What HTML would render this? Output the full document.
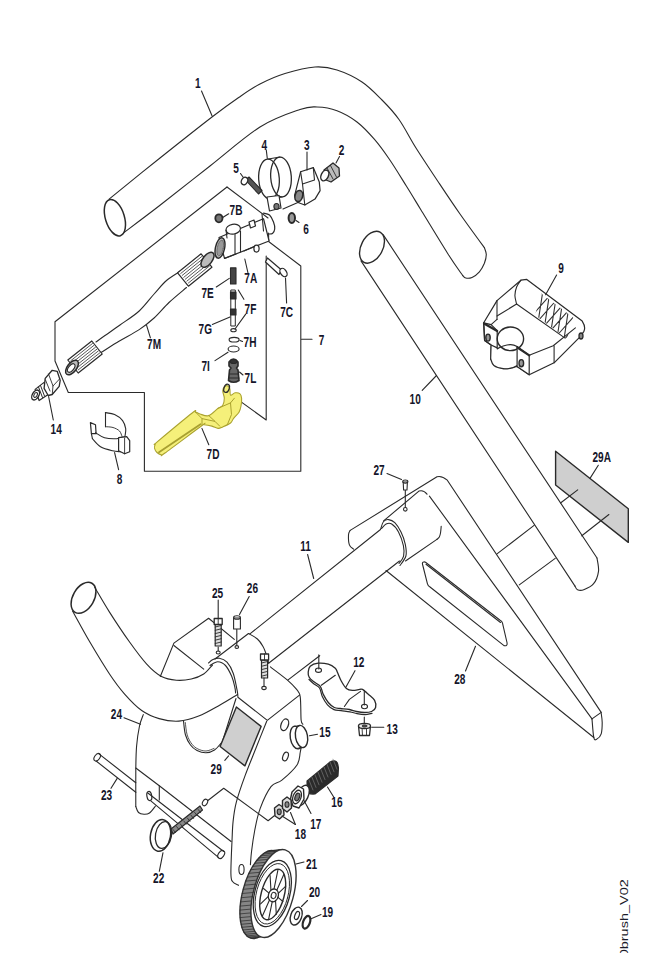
<!DOCTYPE html>
<html><head><meta charset="utf-8"><style>
html,body{margin:0;padding:0;background:#fff;width:646px;height:953px;overflow:hidden;position:relative}
</style></head><body>
<svg width="646" height="953" viewBox="0 0 646 953" style="position:absolute;left:0;top:0">
<g stroke-linecap="round" stroke-linejoin="round">
<path d="M109.1,199.1 C117.6,192.2 142.8,171.7 160,158 C177.2,144.3 198.9,127.1 212,117 C225.1,106.9 230.7,103 238.7,97.5 C246.7,92 252.3,88 260,84 C267.7,80 275.8,76.3 285,73.5 C294.2,70.7 306.3,67.6 315,67 C323.7,66.4 329.2,67.5 337,70 C344.8,72.5 354.5,77 362,82 C369.5,87 375.8,93.8 382,100 C388.2,106.2 393.3,111.5 399,119.5 C404.7,127.5 409.3,137.4 416,148 C422.7,158.6 431.7,172 439,183 C446.3,194 452.4,203.2 460,214 C467.6,224.8 480.3,242.1 484.4,247.7" fill="none" stroke="#2a2a2a" stroke-width="1.1"/>
<path d="M124,232.5 C130,228 145.7,216.4 160,205.3 C174.3,194.2 193.3,179.1 210,166 C226.7,152.9 245,136.4 260,127 C275,117.6 290.5,112.8 300,109.5 C309.5,106.2 310.8,106.8 317,107 C323.2,107.2 330.3,108.2 337,110.7 C343.7,113.2 350.8,117.2 357,122 C363.2,126.8 368.9,133 374.3,139.2 C379.7,145.4 383.8,151.2 389.2,159 C394.6,166.8 401.2,177.8 406.5,186.3 C411.8,194.8 414.1,198.7 421,210 C427.9,221.3 441.1,243.1 448,254 C454.9,264.9 460.2,271.9 462.7,275.5" fill="none" stroke="#2a2a2a" stroke-width="1.1"/>
<path d="M484.4,247.7 C484.7,248.8 486.3,251.9 486.3,254.5 C486.3,257.1 485.5,260.3 484.4,263.2 C483.2,266.1 481.5,269.4 479.4,271.8 C477.3,274.2 474.3,276.4 472,277.4 C469.7,278.4 467.4,278.3 465.8,278 C464.2,277.7 463.2,275.9 462.7,275.5" fill="none" stroke="#2a2a2a" stroke-width="1.1"/>
<ellipse cx="114.9" cy="217.7" rx="9.5" ry="18.8" fill="none" stroke="#2a2a2a" stroke-width="1.5" transform="rotate(-17 114.9 217.7)"/>
<path d="M201.5,91 L212,115.7" fill="none" stroke="#2a2a2a" stroke-width="1.1"/>
<ellipse cx="372" cy="247.2" rx="10.8" ry="17.1" fill="none" stroke="#2a2a2a" stroke-width="1.4" transform="rotate(28 372 247.2)"/>
<path d="M361,260.9 L575,586.1" fill="none" stroke="#2a2a2a" stroke-width="1.1"/>
<path d="M383.3,234.9 L597,558" fill="none" stroke="#2a2a2a" stroke-width="1.1"/>
<path d="M597,558 C597.2,560.2 599.1,567 598.5,571.3 C597.9,575.6 596.1,580.6 593.6,583.7 C591.1,586.8 586.4,588.8 583.7,589.8 C581,590.8 579,590.4 577.5,589.8 C576,589.2 575.4,586.7 575,586.1" fill="none" stroke="#2a2a2a" stroke-width="1.1"/>
<path d="M422.2,390.3 L436.5,375.5" fill="none" stroke="#2a2a2a" stroke-width="1.1"/>
<path d="M497,553.9 L534.1,525.4" fill="none" stroke="#2a2a2a" stroke-width="1.1"/>
<path d="M519.3,584.9 L555.2,558.4" fill="none" stroke="#2a2a2a" stroke-width="1.1"/>
<path d="M555.6,451.3 L628.3,508.8 L628.3,542.4 L555.6,485Z" fill="#cfcfcf" stroke="#2a2a2a" stroke-width="1.4"/>
<path d="M560.5,503 L577.7,489.9" fill="none" stroke="#2a2a2a" stroke-width="1.1"/>
<path d="M581.8,535.8 L608.9,514.5" fill="none" stroke="#2a2a2a" stroke-width="1.1"/>
<path d="M598.3,465.3 L590,478.4" fill="none" stroke="#2a2a2a" stroke-width="1.1"/>
<path d="M350.2,530.4 C349.9,531.1 348.6,532.3 348.5,534.7 C348.4,537.1 348.5,542.5 349.4,544.9 C350.2,547.3 352.9,548.5 353.6,549.2" fill="none" stroke="#2a2a2a" stroke-width="1.1"/>
<path d="M350.2,530.4 L437,476.8 Q442,475.5 447.3,480.2 L601.2,712.4" fill="none" stroke="#2a2a2a" stroke-width="1.1"/>
<path d="M429.4,496.1 L592,718.9" fill="none" stroke="#2a2a2a" stroke-width="1.1"/>
<path d="M386,570.5 L593.8,737.5" fill="none" stroke="#2a2a2a" stroke-width="1.1"/>
<path d="M592,718.9 C592.3,722 593,734.1 593.8,737.5 C594.6,740.9 595.4,739.9 596.6,739.3 C597.8,738.7 600.3,736.6 601.2,733.8 C602.1,731 602.2,726 602.2,722.6 C602.2,719.2 601.4,714.8 601.2,713.3" fill="none" stroke="#2a2a2a" stroke-width="1.1"/>
<path d="M601.2,712.4 L592,718.9" fill="none" stroke="#2a2a2a" stroke-width="1.1"/>
<path d="M423.5,562 Q421.8,562.5 422.7,565 L427.4,583.6 Q428,586 429.7,586.7 L504,645.6 Q507.5,646.5 507.1,643 L502.5,623.1 Q502,621 500.1,620.3 L425.5,562.2 Q424.5,561.6 423.5,562Z" fill="none" stroke="#2a2a2a" stroke-width="1.1"/>
<path d="M426,564.3 L500.5,622.5" fill="none" stroke="#2a2a2a" stroke-width="1.1"/>
<path d="M475.5,646.3 L465.5,671" fill="none" stroke="#2a2a2a" stroke-width="1.1"/>
<path d="M383.6,520.9 L418.9,491.1 Q423.5,489.5 427,494.2" fill="none" stroke="#2a2a2a" stroke-width="1.1"/>
<path d="M441.2,526.4 C441.1,527.5 440.8,531.2 440.5,533 C440.2,534.8 439.9,535.9 439.3,537 C438.7,538.1 437.3,539 436.9,539.4" fill="none" stroke="#2a2a2a" stroke-width="1.1"/>
<path d="M436.9,539.4 L405.5,561" fill="none" stroke="#2a2a2a" stroke-width="1.1"/>
<path d="M380.5,529.5 C381,528.2 382.2,523.1 383.6,521.5 C385,519.9 386.7,519.4 388.6,519.6 C390.5,519.8 392.7,520.6 394.8,522.7 C396.9,524.8 399.2,528.4 401,532 C402.8,535.6 404.5,540.4 405.3,544.4 C406.1,548.4 406.8,552.5 405.9,556 C405,559.5 401,563.9 400,565.5" fill="none" stroke="#2a2a2a" stroke-width="1.1"/>
<path d="M381.5,528.5 C382.3,527.8 384.4,524.8 386.1,524 C387.8,523.2 389.6,522.7 391.7,524 C393.8,525.3 396.6,528.4 398.5,532 C400.4,535.6 402.5,541.6 403.4,545.6 C404.2,549.6 404.3,553 403.6,556 C402.9,559 399.8,562.2 399,563.5" fill="none" stroke="#2a2a2a" stroke-width="1.1"/>
<path d="M405.3,490 L405.3,507.2" fill="none" stroke="#2a2a2a" stroke-width="1.1"/>
<ellipse cx="405.3" cy="509.3" rx="1.8" ry="1.8" fill="none" stroke="#2a2a2a" stroke-width="1.1"/>
<path d="M403.2,482 L403.6,490 L407,490 L407.4,482 Z" fill="#fff" stroke="#2a2a2a" stroke-width="1.1"/>
<ellipse cx="405.3" cy="481.6" rx="2.6" ry="1.6" fill="none" stroke="#2a2a2a" stroke-width="1.1"/>
<path d="M387,473.5 L401.5,479.5" fill="none" stroke="#2a2a2a" stroke-width="1.1"/>
<path d="M249.9,633.9 L380.5,529.5" fill="none" stroke="#2a2a2a" stroke-width="1.1"/>
<path d="M268.6,663.2 L399.5,561" fill="none" stroke="#2a2a2a" stroke-width="1.1"/>
<path d="M307.6,554.5 L313.7,578.5" fill="none" stroke="#2a2a2a" stroke-width="1.1"/>
<ellipse cx="83.5" cy="597.8" rx="10.6" ry="16.8" fill="none" stroke="#2a2a2a" stroke-width="1.5" transform="rotate(30 83.5 597.8)"/>
<path d="M72.5,611 C75.4,616.1 83.5,631.3 89.7,641.8 C95.9,652.3 103.7,665.3 109.5,674 C115.3,682.7 119,687.7 124.4,693.8 C129.8,699.9 135.9,706.4 141.7,710.5 C147.5,714.6 152.9,716.8 159.1,718.6 C165.3,720.4 172.3,721.5 178.9,721.1 C185.5,720.7 191.8,718.8 198.7,716.1 C205.5,713.4 213.5,708.6 220,705 C226.5,701.4 234.6,696.2 237.5,694.5" fill="none" stroke="#2a2a2a" stroke-width="1.1"/>
<path d="M94.7,587.3 C97.2,591.4 103.7,603 109.5,612.1 C115.3,621.2 123.2,633.1 129.4,641.8 C135.6,650.5 141.3,658.3 146.7,664.1 C152,669.9 156.6,673.8 161.5,676.5 C166.4,679.2 171.4,679.8 176.4,680.2 C181.4,680.6 186.8,680 191.3,679 C195.9,678 200.2,676.3 203.7,674 C207.2,671.7 211,666.5 212.5,665" fill="none" stroke="#2a2a2a" stroke-width="1.1"/>
<path d="M160.3,676.5 L173.9,643.1 L208.6,618.3 L234.3,639.4" fill="none" stroke="#2a2a2a" stroke-width="1.1"/>
<path d="M173.9,645.5 L203.7,669.1" fill="none" stroke="#2a2a2a" stroke-width="1.1"/>
<path d="M208.5,663 C209.2,662.4 211.2,660.4 213,659.6 C214.8,658.8 217,657.8 219.3,658.2 C221.6,658.6 224.7,659.7 227,662.2 C229.3,664.7 231.5,668.5 233.2,673.2 C234.9,677.9 236.3,686.3 237.1,690.2 C237.9,694.1 237.8,695.4 237.9,696.4" fill="none" stroke="#2a2a2a" stroke-width="1.1"/>
<path d="M210,665.5 C211.3,664.9 215.1,661.8 217.7,661.8 C220.3,661.8 223.2,663.1 225.5,665.5 C227.8,667.9 230.1,672.7 231.7,676.3 C233.2,679.9 234.2,684.2 234.8,687 C235.5,689.8 235.5,692 235.6,693" fill="none" stroke="#2a2a2a" stroke-width="1.1"/>
<path d="M215,659 L248.5,633.5" fill="none" stroke="#2a2a2a" stroke-width="1.1"/>
<path d="M248.5,633.5 C250,634.4 255,636.9 257.4,639 C259.8,641.1 261.4,643.6 263,646.4 C264.6,649.2 265.8,652.9 266.7,655.7 C267.6,658.5 268.3,662 268.6,663.2" fill="none" stroke="#2a2a2a" stroke-width="1.1"/>
<path d="M218.2,600 L218.2,619" fill="none" stroke="#2a2a2a" stroke-width="1.1"/>
<path d="M215.2,624 L221.2,624 L221.2,646 L215.2,646Z" fill="#ddd" stroke="#2a2a2a" stroke-width="1.2"/>
<path d="M215.2,627 L221.2,625.5" fill="none" stroke="#2a2a2a" stroke-width="0.9"/>
<path d="M215.2,630.3 L221.2,628.8" fill="none" stroke="#2a2a2a" stroke-width="0.9"/>
<path d="M215.2,633.6 L221.2,632.1" fill="none" stroke="#2a2a2a" stroke-width="0.9"/>
<path d="M215.2,636.9 L221.2,635.4" fill="none" stroke="#2a2a2a" stroke-width="0.9"/>
<path d="M215.2,640.2 L221.2,638.7" fill="none" stroke="#2a2a2a" stroke-width="0.9"/>
<path d="M215.2,643.5 L221.2,642" fill="none" stroke="#2a2a2a" stroke-width="0.9"/>
<path d="M214.2,618.5 L222.2,618.5 L222.2,624.5 L214.2,624.5Z" fill="#fff" stroke="#2a2a2a" stroke-width="1.3"/>
<path d="M218.2,618.5 L218.2,624.5" fill="none" stroke="#2a2a2a" stroke-width="0.9"/>
<path d="M218.2,647 L218.2,651" fill="none" stroke="#2a2a2a" stroke-width="1.1"/>
<ellipse cx="218.2" cy="652.5" rx="2" ry="1.5" fill="none" stroke="#2a2a2a" stroke-width="1.1"/>
<path d="M233.6,618 L240.4,618 L240.4,629 L233.6,629Z" fill="#fff" stroke="#2a2a2a" stroke-width="1.1"/>
<ellipse cx="237" cy="617.5" rx="3.4" ry="1.8" fill="none" stroke="#2a2a2a" stroke-width="1.1"/>
<path d="M236.8,629.5 L236.8,645" fill="none" stroke="#2a2a2a" stroke-width="1.1"/>
<ellipse cx="236.8" cy="647" rx="1.8" ry="1.4" fill="none" stroke="#2a2a2a" stroke-width="1.1"/>
<path d="M249.2,596.5 L239.5,614.5" fill="none" stroke="#2a2a2a" stroke-width="1.1"/>
<path d="M261.5,660 L267.6,660 L267.6,678 L261.5,678Z" fill="#ddd" stroke="#2a2a2a" stroke-width="1.2"/>
<path d="M261.5,663 L267.6,661.5" fill="none" stroke="#2a2a2a" stroke-width="0.9"/>
<path d="M261.5,666.3 L267.6,664.8" fill="none" stroke="#2a2a2a" stroke-width="0.9"/>
<path d="M261.5,669.6 L267.6,668.1" fill="none" stroke="#2a2a2a" stroke-width="0.9"/>
<path d="M261.5,672.9 L267.6,671.4" fill="none" stroke="#2a2a2a" stroke-width="0.9"/>
<path d="M261.5,676.2 L267.6,674.7" fill="none" stroke="#2a2a2a" stroke-width="0.9"/>
<path d="M260.5,654 L268.6,654 L268.6,660 L260.5,660Z" fill="#fff" stroke="#2a2a2a" stroke-width="1.3"/>
<path d="M264.5,654 L264.5,660" fill="none" stroke="#2a2a2a" stroke-width="0.9"/>
<path d="M264,678 L264,686" fill="none" stroke="#2a2a2a" stroke-width="1.1"/>
<ellipse cx="264" cy="688" rx="2.2" ry="1.6" fill="none" stroke="#2a2a2a" stroke-width="1.1"/>
<path d="M237.9,697.2 L267.3,720.4 L299.8,694.9" fill="none" stroke="#2a2a2a" stroke-width="1.1"/>
<path d="M270.4,666.9 C273.2,669.1 282.9,676.2 287.2,679.9 C291.5,683.6 294.2,686.4 296.4,689.2 C298.6,692 299.4,691.5 300.2,696.6 C301,701.7 300.7,715.4 301.1,720 C301.6,724.6 302.6,723.6 302.9,724.3" fill="none" stroke="#2a2a2a" stroke-width="1.1"/>
<path d="M236,698.5 L221.2,745.5" fill="none" stroke="#2a2a2a" stroke-width="1.1"/>
<path d="M266.7,721.2 C264.9,725.7 259.6,738.9 256,748 C252.4,757.1 248.3,766.9 245,775.9 C241.7,784.9 238.4,794.3 236.4,801.9 C234.4,809.5 233.8,814.9 233.1,821.4 C232.4,827.9 232.4,832.2 232,840.9 C231.6,849.6 230.8,866.6 230.9,873.4 C231,880.2 231.2,879.5 232.5,881.5 C233.8,883.5 237.5,884.7 238.5,885.3" fill="none" stroke="#2a2a2a" stroke-width="1.1"/>
<path d="M302.5,740 C302.1,742 301.2,747.8 300.3,752 C299.4,756.2 300.1,760.3 297,765 C293.9,769.7 286.2,776.6 281.9,780.2 C277.6,783.8 274.6,782 271,786.7 C267.4,791.4 262.9,801.2 260.2,808.4 C257.5,815.6 256.2,822.8 254.8,830 C253.4,837.2 252.2,845.9 251.5,851.7 C250.8,857.5 250.6,862.5 250.4,864.7" fill="none" stroke="#2a2a2a" stroke-width="1.1"/>
<path d="M143.3,714.6 C142.7,716.5 140.6,720.8 139.5,726 C138.4,731.2 137.2,738.7 136.6,746 C136,753.3 135.9,759.9 135.8,770 C135.7,780.1 135.8,800.4 135.8,806.5" fill="none" stroke="#2a2a2a" stroke-width="1.1"/>
<path d="M135.8,806.5 C136.2,807.5 137.1,811.2 138.5,812.5 C139.9,813.8 142.2,814.2 144,814.3 C145.8,814.4 147.6,814.4 149.5,813 C151.4,811.6 154.5,807.2 155.5,806" fill="none" stroke="#2a2a2a" stroke-width="1.1"/>
<path d="M135.8,768 L159.3,785.8 L231.1,841.5" fill="none" stroke="#2a2a2a" stroke-width="1.1"/>
<path d="M159.3,785.8 L159.3,800" fill="none" stroke="#2a2a2a" stroke-width="1.1"/>
<path d="M183.5,721 C183.8,723.3 184.3,731 185.5,735 C186.7,739 188.6,742.4 190.5,745 C192.4,747.6 194.4,749.2 197,750.5 C199.6,751.8 203.1,752.9 206,752.8 C208.9,752.7 212,751.6 214.5,750 C217,748.4 220.1,744.2 221.2,743" fill="none" stroke="#2a2a2a" stroke-width="1.1"/>
<path d="M185.3,722.5 C185.6,724.6 186.1,731.4 187.2,735 C188.3,738.6 190.2,741.9 192,744.2 C193.8,746.5 195.7,747.9 198,749 C200.3,750.1 203.3,751.1 206,751 C208.7,750.9 212.7,748.8 214,748.4" fill="none" stroke="#2a2a2a" stroke-width="0.8"/>
<ellipse cx="241.5" cy="869.5" rx="2.6" ry="5" fill="none" stroke="#2a2a2a" stroke-width="1.1"/>
<path d="M236.4,707 L261.1,726.4 L244.9,765.9 L220.1,746.5Z" fill="#cfcfcf" stroke="#2a2a2a" stroke-width="1.4"/>
<path d="M224.8,760.4 L228.6,755.8" fill="none" stroke="#2a2a2a" stroke-width="1.1"/>
<ellipse cx="284.7" cy="724.8" rx="3.6" ry="6" fill="none" stroke="#2a2a2a" stroke-width="1.3" transform="rotate(20 284.7 724.8)"/>
<ellipse cx="285.5" cy="756.5" rx="2.6" ry="4.5" fill="none" stroke="#2a2a2a" stroke-width="1.2" transform="rotate(20 285.5 756.5)"/>
<ellipse cx="296.5" cy="737.5" rx="6.2" ry="11.5" fill="#fff" stroke="#2a2a2a" stroke-width="1.4" transform="rotate(-10 296.5 737.5)"/>
<path d="M294.5,726.5 L300.5,725.5" fill="none" stroke="#2a2a2a" stroke-width="1.1"/>
<path d="M296.5,748.5 L302.5,747.5" fill="none" stroke="#2a2a2a" stroke-width="1.1"/>
<ellipse cx="301.5" cy="736.5" rx="6" ry="11.2" fill="#fff" stroke="#2a2a2a" stroke-width="1.4" transform="rotate(-10 301.5 736.5)"/>
<path d="M309.5,735.8 L317.5,734.2" fill="none" stroke="#2a2a2a" stroke-width="1.1"/>
<path d="M124,717.7 L140.5,724.3" fill="none" stroke="#2a2a2a" stroke-width="1.1"/>
<path d="M309,679.5 C309.8,680.2 312.2,682.6 314,684 C315.8,685.4 318.1,685.9 319.5,688 C320.9,690.1 321,693.7 322.3,696.5 C323.6,699.3 325.6,702.6 327.5,704.8 C329.4,707 331.8,708.6 334,709.6 C336.2,710.6 338.3,710.2 341,710.6 C343.7,711 347.3,711.3 350,711.8 C352.7,712.3 354.5,713.1 357,713.6 C359.5,714.1 362.5,714.6 365,714.6 C367.5,714.6 370.8,713.6 372,713.4" fill="none" stroke="#2a2a2a" stroke-width="1.2"/>
<path d="M310.2,666.2 C311.9,664.7 315.2,663.5 318.2,663.2 C321.2,662.9 325.4,663.4 328.3,664.2 C331.2,665 333.8,666.9 335.3,668.2 C336.8,669.6 336.4,670.1 337.4,672.3 C338.4,674.5 339.9,678.6 341.4,681.3 C342.9,684 344.6,686.9 346.4,688.4 C348.2,689.9 350.2,690.2 352.4,690.4 C354.6,690.6 357.8,689.6 359.5,689.4 C361.2,689.2 361,688.6 362.5,689.4 C364,690.2 366.5,692.6 368.5,694.4 C370.5,696.2 373.4,698.2 374.6,700.4 C375.8,702.6 376.1,705.6 375.6,707.5 C375.1,709.4 373.5,710.7 371.6,711.5 C369.8,712.3 367,712.5 364.5,712.5 C362,712.5 359,712 356.5,711.5 C354,711 352.1,710 349.4,709.5 C346.7,709 342.9,708.8 340.4,708.5 C337.9,708.2 336.3,708.5 334.3,707.5 C332.3,706.5 330.1,704.7 328.3,702.5 C326.5,700.3 324.5,696.8 323.3,694.4 C322.1,692 322,689.9 321.3,688.4 C320.6,686.9 320.6,686.5 319.2,685.3 C317.8,684.1 314.9,682.6 313.2,681.3 C311.5,680 310,678.8 309.2,677.3 C308.4,675.8 308,674.1 308.2,672.3 C308.4,670.4 308.5,667.7 310.2,666.2Z" fill="#fff" stroke="#2a2a2a" stroke-width="1.3"/>
<path d="M321.3,685.3 L335.3,675.3" fill="none" stroke="#2a2a2a" stroke-width="1.1"/>
<path d="M344.4,706.5 L349.4,699.4 L360.5,691.4" fill="none" stroke="#2a2a2a" stroke-width="1.1"/>
<ellipse cx="318.5" cy="670.2" rx="3" ry="2.2" fill="none" stroke="#2a2a2a" stroke-width="1.1"/>
<ellipse cx="364.5" cy="706.5" rx="3" ry="2.2" fill="none" stroke="#2a2a2a" stroke-width="1.1"/>
<path d="M318.8,654.9 L318.8,669" fill="none" stroke="#2a2a2a" stroke-width="1.1"/>
<path d="M364.3,690.2 L364.3,705" fill="none" stroke="#2a2a2a" stroke-width="1.1"/>
<path d="M288.1,679.9 L319.7,655.7" fill="none" stroke="#2a2a2a" stroke-width="1.1"/>
<path d="M355,670.7 L345.7,687.4" fill="none" stroke="#2a2a2a" stroke-width="1.1"/>
<path d="M358.5,726 L370.5,726 L369.5,735.5 L359.5,735.5Z" fill="#fff" stroke="#2a2a2a" stroke-width="1.3"/>
<path d="M362,727 L362.5,735.5" fill="none" stroke="#2a2a2a" stroke-width="0.9"/>
<path d="M366.5,727 L366.5,735.5" fill="none" stroke="#2a2a2a" stroke-width="0.9"/>
<ellipse cx="364.5" cy="726" rx="6" ry="2.6" fill="#eee" stroke="#2a2a2a" stroke-width="1.3"/>
<ellipse cx="364.5" cy="726" rx="2.4" ry="1.2" fill="#555" stroke="#2a2a2a" stroke-width="0.8"/>
<path d="M364.3,717 L364.3,723" fill="none" stroke="#2a2a2a" stroke-width="1.1"/>
<path d="M371.7,727.3 L383.8,727.3" fill="none" stroke="#2a2a2a" stroke-width="1.1"/>
<path d="M98.6,753.6 L135.8,782.7" fill="none" stroke="#2a2a2a" stroke-width="1.1"/>
<path d="M96.1,761 L135.8,792.3" fill="none" stroke="#2a2a2a" stroke-width="1.1"/>
<path d="M147.5,792.8 L223.7,851.5" fill="none" stroke="#2a2a2a" stroke-width="1.1"/>
<path d="M150.8,800.8 L218.7,857.6" fill="none" stroke="#2a2a2a" stroke-width="1.1"/>
<ellipse cx="149.3" cy="796" rx="2.4" ry="4.6" fill="none" stroke="#2a2a2a" stroke-width="1.2" transform="rotate(-10 149.3 796)"/>
<ellipse cx="97.2" cy="757.2" rx="2.6" ry="4.2" fill="none" stroke="#2a2a2a" stroke-width="1.1" transform="rotate(35 97.2 757.2)"/>
<ellipse cx="221.2" cy="854.5" rx="2.8" ry="4.4" fill="none" stroke="#2a2a2a" stroke-width="1.1" transform="rotate(35 221.2 854.5)"/>
<path d="M111,788.3 L117.2,778.4" fill="none" stroke="#2a2a2a" stroke-width="1.1"/>
<ellipse cx="160.5" cy="835.4" rx="10" ry="16" fill="none" stroke="#2a2a2a" stroke-width="1.5" transform="rotate(10 160.5 835.4)"/>
<ellipse cx="163.5" cy="835" rx="8" ry="13.5" fill="none" stroke="#2a2a2a" stroke-width="1.3" transform="rotate(10 163.5 835)"/>
<path d="M171,829 L200,806 L202.5,810 L173,834Z" fill="#888" stroke="#2a2a2a" stroke-width="1.2"/>
<path d="M173,829.5 L175.6,832.7" fill="none" stroke="#2a2a2a" stroke-width="0.8"/>
<path d="M176.6,826.6 L179.2,829.9" fill="none" stroke="#2a2a2a" stroke-width="0.8"/>
<path d="M180.2,823.8 L182.8,827" fill="none" stroke="#2a2a2a" stroke-width="0.8"/>
<path d="M183.8,821 L186.4,824.2" fill="none" stroke="#2a2a2a" stroke-width="0.8"/>
<path d="M187.4,818.1 L190,821.3" fill="none" stroke="#2a2a2a" stroke-width="0.8"/>
<path d="M191,815.2 L193.6,818.5" fill="none" stroke="#2a2a2a" stroke-width="0.8"/>
<path d="M194.6,812.4 L197.2,815.6" fill="none" stroke="#2a2a2a" stroke-width="0.8"/>
<path d="M198.2,809.5 L200.8,812.8" fill="none" stroke="#2a2a2a" stroke-width="0.8"/>
<ellipse cx="205" cy="802.5" rx="2.3" ry="3.5" fill="none" stroke="#2a2a2a" stroke-width="1.1" transform="rotate(30 205 802.5)"/>
<path d="M207.6,800.7 L223.7,788.3 L268.1,820.7 L274.3,815.7" fill="none" stroke="#2a2a2a" stroke-width="1.1"/>
<path d="M163,852.7 L159.3,871.3" fill="none" stroke="#2a2a2a" stroke-width="1.1"/>
<ellipse cx="262.5" cy="894.5" rx="20" ry="45.2" fill="#858585" stroke="#333" stroke-width="1.4" transform="rotate(15 262.5 894.5)"/>
<path d="M250.1,938 L261.1,937" fill="none" stroke="#2a2a2a" stroke-width="0.7"/>
<path d="M248.4,937.1 L259.4,936.1" fill="none" stroke="#2a2a2a" stroke-width="0.7"/>
<path d="M246.8,935.9 L257.8,934.9" fill="none" stroke="#2a2a2a" stroke-width="0.7"/>
<path d="M245.3,934.3 L256.3,933.3" fill="none" stroke="#2a2a2a" stroke-width="0.7"/>
<path d="M244,932.3 L255,931.3" fill="none" stroke="#2a2a2a" stroke-width="0.7"/>
<path d="M242.8,930 L253.8,929" fill="none" stroke="#2a2a2a" stroke-width="0.7"/>
<path d="M241.8,927.3 L252.8,926.3" fill="none" stroke="#2a2a2a" stroke-width="0.7"/>
<path d="M241.1,924.3 L252.1,923.3" fill="none" stroke="#2a2a2a" stroke-width="0.7"/>
<path d="M240.5,921.1 L251.5,920.1" fill="none" stroke="#2a2a2a" stroke-width="0.7"/>
<path d="M240.1,917.6 L251.1,916.6" fill="none" stroke="#2a2a2a" stroke-width="0.7"/>
<path d="M239.9,913.9 L250.9,912.9" fill="none" stroke="#2a2a2a" stroke-width="0.7"/>
<path d="M240,910.1 L251,909.1" fill="none" stroke="#2a2a2a" stroke-width="0.7"/>
<path d="M240.2,906.1 L251.2,905.1" fill="none" stroke="#2a2a2a" stroke-width="0.7"/>
<path d="M240.7,901.9 L251.7,900.9" fill="none" stroke="#2a2a2a" stroke-width="0.7"/>
<path d="M241.3,897.7 L252.3,896.7" fill="none" stroke="#2a2a2a" stroke-width="0.7"/>
<path d="M242.1,893.5 L253.1,892.5" fill="none" stroke="#2a2a2a" stroke-width="0.7"/>
<path d="M243.2,889.3 L254.2,888.3" fill="none" stroke="#2a2a2a" stroke-width="0.7"/>
<path d="M244.4,885.2 L255.4,884.2" fill="none" stroke="#2a2a2a" stroke-width="0.7"/>
<path d="M245.8,881.1 L256.8,880.1" fill="none" stroke="#2a2a2a" stroke-width="0.7"/>
<path d="M247.3,877.1 L258.3,876.1" fill="none" stroke="#2a2a2a" stroke-width="0.7"/>
<path d="M249,873.3 L260,872.3" fill="none" stroke="#2a2a2a" stroke-width="0.7"/>
<path d="M250.8,869.7 L261.8,868.7" fill="none" stroke="#2a2a2a" stroke-width="0.7"/>
<path d="M252.7,866.4 L263.7,865.4" fill="none" stroke="#2a2a2a" stroke-width="0.7"/>
<path d="M254.7,863.3 L265.7,862.3" fill="none" stroke="#2a2a2a" stroke-width="0.7"/>
<path d="M256.7,860.4 L267.7,859.4" fill="none" stroke="#2a2a2a" stroke-width="0.7"/>
<path d="M258.8,857.9 L269.8,856.9" fill="none" stroke="#2a2a2a" stroke-width="0.7"/>
<path d="M261,855.8 L272,854.8" fill="none" stroke="#2a2a2a" stroke-width="0.7"/>
<path d="M263.2,854 L274.2,853" fill="none" stroke="#2a2a2a" stroke-width="0.7"/>
<path d="M265.3,852.5 L276.3,851.5" fill="none" stroke="#2a2a2a" stroke-width="0.7"/>
<path d="M267.5,851.5 L278.5,850.5" fill="none" stroke="#2a2a2a" stroke-width="0.7"/>
<path d="M269.6,850.8 L280.6,849.8" fill="none" stroke="#2a2a2a" stroke-width="0.7"/>
<path d="M271.6,850.5 L282.6,849.5" fill="none" stroke="#2a2a2a" stroke-width="0.7"/>
<path d="M273.5,850.7 L284.5,849.7" fill="none" stroke="#2a2a2a" stroke-width="0.7"/>
<ellipse cx="273.5" cy="893.5" rx="20" ry="45.2" fill="#fff" stroke="#333" stroke-width="1.4" transform="rotate(15 273.5 893.5)"/>
<ellipse cx="272.3" cy="893.5" rx="17.5" ry="34" fill="none" stroke="#2a2a2a" stroke-width="1.3" transform="rotate(15 272.3 893.5)"/>
<ellipse cx="272.3" cy="893.8" rx="15.8" ry="31" fill="none" stroke="#2a2a2a" stroke-width="0.9" transform="rotate(15 272.3 893.8)"/>
<ellipse cx="272.7" cy="894.5" rx="11.5" ry="26" fill="none" stroke="#2a2a2a" stroke-width="1.4" transform="rotate(15 272.7 894.5)"/>
<ellipse cx="273.4" cy="895.4" rx="5" ry="6.5" fill="#fff" stroke="#2a2a2a" stroke-width="1.3" transform="rotate(15 273.4 895.4)"/>
<ellipse cx="273.6" cy="895.5" rx="2.4" ry="3.2" fill="none" stroke="#2a2a2a" stroke-width="1.1" transform="rotate(15 273.6 895.5)"/>
<path d="M277.7,897.2 L282.9,901.5" fill="none" stroke="#2a2a2a" stroke-width="1.1"/>
<path d="M275.5,900.3 L276.3,914.4" fill="none" stroke="#2a2a2a" stroke-width="1.1"/>
<path d="M272.3,901.4 L268.5,919.8" fill="none" stroke="#2a2a2a" stroke-width="1.1"/>
<path d="M269.5,900 L262.5,915.7" fill="none" stroke="#2a2a2a" stroke-width="1.1"/>
<path d="M268.1,896.7 L260.6,903.8" fill="none" stroke="#2a2a2a" stroke-width="1.1"/>
<path d="M268.7,892.8 L263.5,888.5" fill="none" stroke="#2a2a2a" stroke-width="1.1"/>
<path d="M270.9,889.7 L270.1,875.6" fill="none" stroke="#2a2a2a" stroke-width="1.1"/>
<path d="M274.1,888.6 L277.9,870.2" fill="none" stroke="#2a2a2a" stroke-width="1.1"/>
<path d="M276.9,890 L283.9,874.3" fill="none" stroke="#2a2a2a" stroke-width="1.1"/>
<path d="M278.3,893.3 L285.8,886.2" fill="none" stroke="#2a2a2a" stroke-width="1.1"/>
<path d="M296,864 L304,862" fill="none" stroke="#2a2a2a" stroke-width="1.1"/>
<ellipse cx="296.2" cy="916.1" rx="5.5" ry="9.3" fill="#fff" stroke="#2a2a2a" stroke-width="1.4" transform="rotate(20 296.2 916.1)"/>
<ellipse cx="297" cy="915.5" rx="2.1" ry="4.3" fill="none" stroke="#2a2a2a" stroke-width="1.2" transform="rotate(20 297 915.5)"/>
<path d="M307.5,900.5 L301.5,906.5" fill="none" stroke="#2a2a2a" stroke-width="1.1"/>
<ellipse cx="306.5" cy="922.3" rx="3.4" ry="6.6" fill="none" stroke="#2a2a2a" stroke-width="2.2" transform="rotate(20 306.5 922.3)"/>
<path d="M310.5,919 L321,914.5" fill="none" stroke="#2a2a2a" stroke-width="1.1"/>
<path d="M307,781 L330,762 Q338,758 338.5,768 L338,776 L315,794 Q306,795 307,787 Z" fill="#2a2a2a" stroke="#2a2a2a" stroke-width="1.1"/>
<path d="M309,780 L313,790" fill="none" stroke="#777" stroke-width="0.7"/>
<path d="M312,777.4 L316,787.4" fill="none" stroke="#777" stroke-width="0.7"/>
<path d="M315,774.8 L319,784.8" fill="none" stroke="#777" stroke-width="0.7"/>
<path d="M318,772.2 L322,782.2" fill="none" stroke="#777" stroke-width="0.7"/>
<path d="M321,769.6 L325,779.6" fill="none" stroke="#777" stroke-width="0.7"/>
<path d="M324,767 L328,777" fill="none" stroke="#777" stroke-width="0.7"/>
<path d="M327,764.4 L331,774.4" fill="none" stroke="#777" stroke-width="0.7"/>
<path d="M330,761.8 L334,771.8" fill="none" stroke="#777" stroke-width="0.7"/>
<path d="M333,759.2 L337,769.2" fill="none" stroke="#777" stroke-width="0.7"/>
<path d="M327.5,787 L333.7,797" fill="none" stroke="#2a2a2a" stroke-width="1.1"/>
<ellipse cx="302.5" cy="795.5" rx="5.6" ry="11" fill="#fff" stroke="#2a2a2a" stroke-width="1.4" transform="rotate(25 302.5 795.5)"/>
<path d="M292,792 L298,786 L303.5,789 L304,799 L299,808 L293,806 L290.5,799 Z" fill="#fff" stroke="#2a2a2a" stroke-width="1.4"/>
<ellipse cx="297" cy="797" rx="4" ry="7" fill="#fff" stroke="#2a2a2a" stroke-width="1.3" transform="rotate(20 297 797)"/>
<ellipse cx="297.3" cy="797" rx="2.2" ry="4" fill="#777" stroke="#2a2a2a" stroke-width="1.2" transform="rotate(20 297.3 797)"/>
<path d="M304,800.5 L311,813.5" fill="none" stroke="#2a2a2a" stroke-width="1.1"/>
<path d="M274.5,808 L279,804.5 L283.5,807.5 L284,815 L279.5,819 L275,816 Z" fill="#ddd" stroke="#2a2a2a" stroke-width="1.4"/>
<ellipse cx="279.2" cy="811.8" rx="2" ry="2.8" fill="#888" stroke="#2a2a2a" stroke-width="1.1"/>
<path d="M282.5,800.5 L287,797 L291,800 L291.5,808 L287,812 L282.5,808.5 Z" fill="#ddd" stroke="#2a2a2a" stroke-width="1.4"/>
<ellipse cx="287" cy="804.5" rx="2" ry="2.8" fill="#888" stroke="#2a2a2a" stroke-width="1.1"/>
<path d="M295.4,824.5 L282,816" fill="none" stroke="#2a2a2a" stroke-width="1.1"/>
<path d="M295.4,824.5 L290.5,812.5" fill="none" stroke="#2a2a2a" stroke-width="1.1"/>
<path d="M520.9,280.2 L526.8,279.4 L582.2,321.1 Q586,327 583.9,331.3 L580.5,336.4 L554.1,362.8 L529.2,374.8 L517.1,366.4 L503.2,368.7 L490.7,359 L491.1,345 L484.6,340.4 L483.7,322.8 L497,300.6 Z" fill="#fff" stroke="#2a2a2a" stroke-width="1.2"/>
<path d="M520.9,280.2 C520.2,281.3 517.6,284.4 516.6,287 C515.6,289.6 514.9,292.7 514.9,295.5 C514.9,298.3 516.3,302.6 516.6,304" fill="none" stroke="#2a2a2a" stroke-width="1.1"/>
<path d="M516.6,304 L565.1,338.1" fill="none" stroke="#2a2a2a" stroke-width="1.1"/>
<path d="M497,300.6 L497,319.4" fill="none" stroke="#2a2a2a" stroke-width="1.1"/>
<path d="M497,316 L516.6,304" fill="none" stroke="#2a2a2a" stroke-width="1.1"/>
<path d="M491.1,324.6 L497,319.4" fill="none" stroke="#2a2a2a" stroke-width="1.1"/>
<path d="M491.1,346 L490.7,359 Q492,365.5 503.2,368.7 Q512.5,368.5 517.1,365.5 L517.1,346 Z" fill="#fff" stroke="none" stroke-width="1.1"/>
<ellipse cx="510.4" cy="338.8" rx="13.2" ry="11.8" fill="#fff" stroke="#2a2a2a" stroke-width="1.4"/>
<path d="M497.2,348.8 C498.2,348.3 501,346.7 503.2,346 C505.4,345.3 508.3,344.5 510.6,344.6 C512.9,344.7 515.4,345.6 517.1,346.5 C518.8,347.4 520.4,349.4 521,350" fill="none" stroke="#2a2a2a" stroke-width="1.3"/>
<path d="M491.1,346 L490.7,359" fill="none" stroke="#2a2a2a" stroke-width="1.1"/>
<path d="M490.7,359 C491.2,360.1 491.8,363.9 493.9,365.5 C496,367.1 500.1,368.3 503.2,368.7 C506.3,369.1 510.2,368.3 512.5,367.8 C514.8,367.3 516.3,365.9 517.1,365.5" fill="none" stroke="#2a2a2a" stroke-width="1.2"/>
<path d="M483.7,322.8 L484.6,340.4 L491.1,345 L497.2,347.9 L497.2,330.7 L491.1,324.6 L483.7,322.8" fill="none" stroke="#2a2a2a" stroke-width="1.2"/>
<path d="M484,323.5 L497.2,331" fill="none" stroke="#2a2a2a" stroke-width="2.2"/>
<ellipse cx="488" cy="337.6" rx="2.2" ry="3.5" fill="#999" stroke="#2a2a2a" stroke-width="1.4"/>
<path d="M517.1,346.9 L529.2,355.3 L529.2,374.8 L517.1,366.4Z" fill="#fff" stroke="#2a2a2a" stroke-width="1.2"/>
<path d="M517.5,347.5 L529.2,355.3" fill="none" stroke="#2a2a2a" stroke-width="2.2"/>
<ellipse cx="521.3" cy="363.2" rx="2.3" ry="3.6" fill="#999" stroke="#2a2a2a" stroke-width="1.4"/>
<path d="M529.2,355.3 L553.2,345.8 L575.4,327.9" fill="none" stroke="#2a2a2a" stroke-width="1.1"/>
<path d="M554.1,345.8 L554.1,362.8" fill="none" stroke="#2a2a2a" stroke-width="1.1"/>
<ellipse cx="581" cy="336" rx="2" ry="3" fill="#888" stroke="#2a2a2a" stroke-width="1.3"/>
<clipPath id="knurl"><path d="M541.3,293.4 L573.2,317.5 L567.0,339.0 L535.0,315.0Z"/></clipPath>
<path d="M523.6,277.0 L519.2,306.2 M530.0,281.8 L512.8,301.4 M530.0,281.8 L525.6,311.0 M536.4,286.6 L519.2,306.2 M536.4,286.6 L531.9,315.8 M542.8,291.4 L525.6,311.0 M542.8,291.4 L538.3,320.6 M549.2,296.2 L531.9,315.8 M549.2,296.2 L544.7,325.4 M555.6,301.0 L538.3,320.6 M555.6,301.0 L551.1,330.2 M562.0,305.8 L544.7,325.4 M562.0,305.8 L557.5,335.0 M568.3,310.7 L551.1,330.2 M568.3,310.7 L563.9,339.8 M574.7,315.5 L557.5,335.0 M574.7,315.5 L570.3,344.6 M581.1,320.3 L563.9,339.8 M581.1,320.3 L576.7,349.5 M587.5,325.1 L570.3,344.6 M587.5,325.1 L583.1,354.3 M593.9,329.9 L576.7,349.5 M593.9,329.9 L589.5,359.1 M600.3,334.7 L583.1,354.3 M600.3,334.7 L595.9,363.9 M606.7,339.5 L589.5,359.1 M606.7,339.5 L602.3,368.7 M613.1,344.3 L595.9,363.9" stroke="#333" stroke-width="1.1" fill="none" clip-path="url(#knurl)"/>
<path d="M556.6,275.1 L545.6,294.7" fill="none" stroke="#2a2a2a" stroke-width="1.1"/>
<path d="M227,187 L55,321.7 L55,361 L68.3,392.5 L144.4,392.5 L144.4,471.2 L300.8,471.2 L300.8,266 L268.6,241.5 L268.6,233" fill="none" stroke="#2a2a2a" stroke-width="1.1"/>
<path d="M227,187 L268,218" fill="none" stroke="#2a2a2a" stroke-width="1.1"/>
<path d="M266.2,256 L266.2,420 L241.8,402.4" fill="none" stroke="#2a2a2a" stroke-width="1.1"/>
<path d="M301.5,339.2 L312,339.2" fill="none" stroke="#2a2a2a" stroke-width="1.1"/>
<path d="M96,342 C97.5,340.9 101,338.3 105,335.5 C109,332.7 114.3,329.1 120,325 C125.7,320.9 133.5,316.2 139.2,311 C144.9,305.8 149.5,299.1 154.1,294 C158.7,288.9 162.1,284.3 166.5,280.5 C170.9,276.7 178.2,272.6 180.5,271" fill="none" stroke="#2a2a2a" stroke-width="1.1"/>
<path d="M101,352.5 C104.1,350.6 113,344.8 119.4,341 C125.8,337.2 133.4,333.4 139.2,329.6 C145,325.8 149.1,322.5 154.1,318 C159.1,313.5 163.6,307.6 169,302.5 C174.4,297.4 183.6,290 186.5,287.5" fill="none" stroke="#2a2a2a" stroke-width="1.1"/>
<path d="M78.2,373 L102.2,354 L91.8,341 L67.8,360Z" fill="#fff" stroke="#2a2a2a" stroke-width="1.2"/>
<path d="M70.9,360.6 L92.5,343.5" fill="none" stroke="#444" stroke-width="0.9"/>
<path d="M72.4,362.5 L94,345.3" fill="none" stroke="#444" stroke-width="0.9"/>
<path d="M73.8,364.3 L95.5,347.2" fill="none" stroke="#444" stroke-width="0.9"/>
<path d="M75.3,366.2 L97,349.1" fill="none" stroke="#444" stroke-width="0.9"/>
<path d="M76.8,368 L98.4,350.9" fill="none" stroke="#444" stroke-width="0.9"/>
<path d="M78.2,369.9 L99.9,352.8" fill="none" stroke="#444" stroke-width="0.9"/>
<ellipse cx="72" cy="367.5" rx="4.6" ry="8.6" fill="#bbb" stroke="#2a2a2a" stroke-width="1.5" transform="rotate(38 72 367.5)"/>
<ellipse cx="71.2" cy="368" rx="2.6" ry="5" fill="#fff" stroke="#2a2a2a" stroke-width="1.1" transform="rotate(38 71.2 368)"/>
<path d="M188.4,286.2 L211.9,267.2 L201.1,253.8 L177.6,272.8Z" fill="#fff" stroke="#2a2a2a" stroke-width="1.2"/>
<path d="M180.7,273.5 L201.9,256.4" fill="none" stroke="#444" stroke-width="0.9"/>
<path d="M182.2,275.4 L203.4,258.3" fill="none" stroke="#444" stroke-width="0.9"/>
<path d="M183.8,277.3 L204.9,260.2" fill="none" stroke="#444" stroke-width="0.9"/>
<path d="M185.3,279.2 L206.5,262.1" fill="none" stroke="#444" stroke-width="0.9"/>
<path d="M186.9,281.1 L208,264" fill="none" stroke="#444" stroke-width="0.9"/>
<path d="M188.4,283 L209.6,265.9" fill="none" stroke="#444" stroke-width="0.9"/>
<ellipse cx="207.5" cy="259.8" rx="4.6" ry="8.8" fill="#bbb" stroke="#2a2a2a" stroke-width="1.5" transform="rotate(38 207.5 259.8)"/>
<path d="M146.6,325.4 L150.4,337.8" fill="none" stroke="#2a2a2a" stroke-width="1.1"/>
<path d="M35.1,389.4 L44.1,382.4 L48.2,394.5 L39.1,400.5 Z" fill="#fff" stroke="#2a2a2a" stroke-width="1.2"/>
<path d="M38.5,387 L42.5,397.5" fill="none" stroke="#2a2a2a" stroke-width="1.0"/>
<path d="M40.5,385.5 L44.5,396" fill="none" stroke="#2a2a2a" stroke-width="1.0"/>
<path d="M45.2,378.4 L52.2,370.3 L57.2,371.3 L60.2,380.4 L59.2,386.4 L52.2,394.5 L48.2,395.5 L44.1,388.4 Z" fill="#fff" stroke="#2a2a2a" stroke-width="1.3"/>
<path d="M48.5,374 L53,386 L52.2,394.5" fill="none" stroke="#2a2a2a" stroke-width="0.9"/>
<path d="M53,386 L59.5,379" fill="none" stroke="#2a2a2a" stroke-width="0.9"/>
<path d="M45.5,380 L50,391" fill="none" stroke="#2a2a2a" stroke-width="0.9"/>
<ellipse cx="35.6" cy="395" rx="3.2" ry="5.4" fill="#fff" stroke="#2a2a2a" stroke-width="1.4" transform="rotate(30 35.6 395)"/>
<ellipse cx="35.6" cy="395" rx="1.5" ry="2.6" fill="none" stroke="#2a2a2a" stroke-width="1" transform="rotate(30 35.6 395)"/>
<path d="M48.6,396.5 L53.3,420" fill="none" stroke="#2a2a2a" stroke-width="1.1"/>
<path d="M105.5,412.6 C107,412.9 111.8,413.3 114.6,414.6 C117.4,415.9 120.8,418.2 122.6,420.6 C124.4,423 125.3,426.1 125.7,428.7 C126.1,431.3 125.1,434.8 125,436" fill="none" stroke="#2a2a2a" stroke-width="1.1"/>
<path d="M105.5,412.6 L105.5,426.7" fill="none" stroke="#2a2a2a" stroke-width="1.1"/>
<path d="M105.5,426.7 C106.8,426.8 110.7,426.8 113,427.5 C115.3,428.2 118,429.5 119.5,431 C121,432.5 121.6,435.6 122,436.5" fill="none" stroke="#2a2a2a" stroke-width="0.9"/>
<path d="M90.4,422.6 L95.5,424.7 L96.1,433.7 L91.4,433.7 Z" fill="#fff" stroke="#2a2a2a" stroke-width="1.2"/>
<path d="M95.5,432.7 C97,433.5 101,436.7 104.5,437.7 C108,438.7 113.2,438.9 116.6,438.7 C119.9,438.5 123.3,437 124.6,436.7" fill="none" stroke="#2a2a2a" stroke-width="1.1"/>
<path d="M92.4,438.7 C93.8,440.1 97.1,444.8 100.5,446.8 C103.9,448.8 109.2,450 112.6,450.8 C115.9,451.6 119.3,451.6 120.6,451.8" fill="none" stroke="#2a2a2a" stroke-width="1.1"/>
<path d="M91.4,433.7 L92.4,438.7" fill="none" stroke="#2a2a2a" stroke-width="1.1"/>
<path d="M118.6,437.7 L126.7,436.7 L129.7,440.7 L129.7,451.8 L124.6,453.8 L118.6,450.8 Z" fill="#fff" stroke="#2a2a2a" stroke-width="1.2"/>
<path d="M124.6,438 L124.6,453.8" fill="none" stroke="#2a2a2a" stroke-width="0.9"/>
<path d="M114.6,452.6 L118.6,469.7" fill="none" stroke="#2a2a2a" stroke-width="1.1"/>
<path d="M155.2,444.2 C155.7,443.1 151.3,446.8 157.5,441.6 C163.7,436.4 185.9,417.9 192.2,413 C198.5,408.1 194.2,411.9 195.5,412.1 C196.8,412.3 197.8,413.4 200,414 C202.2,414.6 205.8,416.6 208.8,415.6 C211.8,414.7 215.8,410 218.1,408.3 C220.4,406.6 221.8,406.9 222.8,405.2 C223.8,403.5 224.3,400.6 224.3,398.2 C224.3,395.8 222.5,392.6 222.8,390.5 C223.1,388.4 224.8,386.2 225.9,385.8 C227.1,385.4 228.9,386.6 229.7,388.2 C230.5,389.8 229.6,394.3 230.5,395.1 C231.4,395.9 233.5,393.1 235.1,392.8 C236.7,392.6 238.7,392.7 239.8,393.6 C240.9,394.5 241.4,396.1 241.6,398.2 C241.8,400.3 241.4,403.7 241,406 C240.6,408.3 240.2,410.1 239,412.2 C237.8,414.2 235,416.5 233.6,418.3 C232.2,420.1 232.3,421.6 230.5,423 C228.7,424.4 224.9,426 222.8,426.9 C220.7,427.8 219.9,428.5 218.1,428.4 C216.3,428.3 214.2,426.7 211.9,426.1 C209.6,425.5 205.7,424.9 204,424.8 C202.3,424.7 208.5,420.8 202,425.5 C195.5,430.2 171.8,448.1 165,453 C158.2,457.9 162.8,454.9 161.5,454.8 C160.2,454.7 158.2,453.6 157,452.5 C155.8,451.4 154.9,449.9 154.6,448.5 C154.3,447.1 154.7,445.3 155.2,444.2Z" fill="#f5f07a" stroke="#aaa22e" stroke-width="1.1"/>
<path d="M195.5,412.1 L202,418.6 L202,425.1" fill="none" stroke="#aaa22e" stroke-width="1.0"/>
<path d="M202,418.6 L215,421.4 L219.7,426.1" fill="none" stroke="#aaa22e" stroke-width="1.0"/>
<path d="M208.8,415.6 L215,421.4" fill="none" stroke="#aaa22e" stroke-width="1.0"/>
<path d="M218.1,408.3 L230.5,402.9 L234.4,398.2" fill="none" stroke="#aaa22e" stroke-width="1.0"/>
<path d="M230.5,402.9 L231.5,414.5 L227.4,424.5" fill="none" stroke="#aaa22e" stroke-width="1.0"/>
<path d="M159,452.3 L200.5,424.2" fill="none" stroke="#a8a030" stroke-width="1.8"/>
<ellipse cx="226.6" cy="388.3" rx="2.6" ry="4.2" fill="none" stroke="#2a2a2a" stroke-width="1.3" transform="rotate(20 226.6 388.3)"/>
<path d="M201.9,428.4 L208.8,444.7" fill="none" stroke="#2a2a2a" stroke-width="1.1"/>
<path d="M219,237.5 L263.5,218.7 L269.1,241 L224.5,258.4 Z" fill="#fff" stroke="#2a2a2a" stroke-width="1.2"/>
<ellipse cx="220" cy="248" rx="4.6" ry="10.4" fill="#bbb" stroke="#2a2a2a" stroke-width="1.4" transform="rotate(12 220 248)"/>
<ellipse cx="220.3" cy="248" rx="3" ry="8" fill="#999" stroke="#666" stroke-width="0.8" transform="rotate(12 220.3 248)"/>
<path d="M224.5,258.4 L236,254" fill="none" stroke="#2a2a2a" stroke-width="1.1"/>
<path d="M235,233 L235,253.8" fill="none" stroke="#2a2a2a" stroke-width="1.1"/>
<path d="M240.5,231 L240.5,252" fill="none" stroke="#2a2a2a" stroke-width="1.1"/>
<ellipse cx="233.2" cy="229.2" rx="7.3" ry="4.9" fill="#fff" stroke="#2a2a2a" stroke-width="1.2" transform="rotate(-10 233.2 229.2)"/>
<path d="M226,230 L227,238" fill="none" stroke="#2a2a2a" stroke-width="1.1"/>
<path d="M249,222 L254,220 L255.5,226 L250.5,228 Z" fill="#fff" stroke="#2a2a2a" stroke-width="1.2"/>
<ellipse cx="256.5" cy="248.6" rx="2.6" ry="3.5" fill="#fff" stroke="#2a2a2a" stroke-width="1.2"/>
<path d="M244,251 L254,246.5" fill="none" stroke="#2a2a2a" stroke-width="1.1"/>
<path d="M263.5,213.1 C264.5,213.4 267.8,213.5 269.5,215 C271.2,216.5 272.6,219.7 273.5,222 C274.4,224.3 274.9,227.1 274.7,229 C274.5,230.9 273.6,232.7 272.5,233.5 C271.4,234.3 268.8,233.9 268,234" fill="none" stroke="#2a2a2a" stroke-width="1.2"/>
<path d="M262,214 L263.5,231" fill="none" stroke="#2a2a2a" stroke-width="1.1"/>
<ellipse cx="218.9" cy="218.3" rx="3.6" ry="4" fill="#777" stroke="#2a2a2a" stroke-width="1.8"/>
<path d="M223.1,217.3 L228.7,213.8" fill="none" stroke="#2a2a2a" stroke-width="1.1"/>
<path d="M244.8,259 L248,273" fill="none" stroke="#2a2a2a" stroke-width="1.1"/>
<path d="M267.5,258 L281.5,270 L279,274.5 L265.5,262 Z" fill="#fff" stroke="#2a2a2a" stroke-width="1.2"/>
<ellipse cx="283.5" cy="272.5" rx="3" ry="4.6" fill="#fff" stroke="#2a2a2a" stroke-width="1.3" transform="rotate(-35 283.5 272.5)"/>
<path d="M286.6,303 L285.5,278" fill="none" stroke="#2a2a2a" stroke-width="1.1"/>
<path d="M230.5,267.9 L236,267.9 L236,284 L230.5,284Z" fill="#444" stroke="#2a2a2a" stroke-width="1.1"/>
<path d="M216.3,287 L229.3,278.4" fill="none" stroke="#2a2a2a" stroke-width="1.1"/>
<path d="M231.2,290 L235.3,290 L235.3,326 L231.2,326Z" fill="#fff" stroke="#2a2a2a" stroke-width="1"/>
<path d="M230.5,292 L236,292 L236,299 L230.5,299Z" fill="#333" stroke="#2a2a2a" stroke-width="1.1"/>
<path d="M230.5,309 L236,309 L236,315 L230.5,315Z" fill="#333" stroke="#2a2a2a" stroke-width="1.1"/>
<path d="M212.3,324.4 L230,316.9" fill="none" stroke="#2a2a2a" stroke-width="1.1"/>
<ellipse cx="233.5" cy="330.2" rx="2.7" ry="1.6" fill="none" stroke="#2a2a2a" stroke-width="1.1"/>
<ellipse cx="234.1" cy="339.7" rx="5" ry="2.3" fill="none" stroke="#2a2a2a" stroke-width="1.1"/>
<ellipse cx="233.6" cy="349" rx="5.5" ry="3" fill="none" stroke="#2a2a2a" stroke-width="1.1"/>
<path d="M245.7,314.1 L235,329" fill="none" stroke="#2a2a2a" stroke-width="1.1"/>
<path d="M243.9,299.3 L238.3,290" fill="none" stroke="#2a2a2a" stroke-width="1.1"/>
<path d="M240,340.5 L242.5,341.5" fill="none" stroke="#2a2a2a" stroke-width="1.1"/>
<path d="M215,360.6 L228,352.2" fill="none" stroke="#2a2a2a" stroke-width="1.1"/>
<path d="M229,362 Q233.5,356 238,362 L238,366 L236.5,368 L238,370 L239,380.5 Q233.5,384 228.5,380.5 L229.5,370 L231,368 L229,366Z" fill="#666" stroke="#2a2a2a" stroke-width="1.6"/>
<ellipse cx="233.6" cy="361.5" rx="3.4" ry="2" fill="#333" stroke="#2a2a2a" stroke-width="1.1"/>
<path d="M229.5,374 L238.5,374" fill="none" stroke="#2a2a2a" stroke-width="1.2"/>
<path d="M229,378 L239,378" fill="none" stroke="#2a2a2a" stroke-width="1.2"/>
<path d="M239.5,372 L243,375" fill="none" stroke="#2a2a2a" stroke-width="1.1"/>
<path d="M269,159 L281,157 A10.3,20 0 0 1 281,197 L269,199 A10.3,20 0 0 1 269,159 Z" fill="#fff" stroke="none" stroke-width="1.1"/>
<ellipse cx="281" cy="177" rx="10.3" ry="20" fill="none" stroke="#2a2a2a" stroke-width="1.3" transform="rotate(-4 281 177)"/>
<ellipse cx="269" cy="179" rx="10.3" ry="20" fill="none" stroke="#2a2a2a" stroke-width="1.3" transform="rotate(-4 269 179)"/>
<path d="M268.3,159 L280,157" fill="none" stroke="#2a2a2a" stroke-width="1.1"/>
<path d="M270,199 L282,197" fill="none" stroke="#2a2a2a" stroke-width="1.1"/>
<path d="M266.3,150.1 L267.3,158.5" fill="none" stroke="#2a2a2a" stroke-width="1.1"/>
<path d="M267,197 L279,195.5 L281,208 L269.5,211 Z" fill="#fff" stroke="#2a2a2a" stroke-width="1.2"/>
<ellipse cx="276.5" cy="206.5" rx="2.6" ry="3" fill="#777" stroke="#2a2a2a" stroke-width="1.1"/>
<path d="M245.5,180 L249,177 L262,190.5 L258.5,194 Z" fill="#555" stroke="#2a2a2a" stroke-width="1.1"/>
<ellipse cx="244.5" cy="181" rx="3" ry="4" fill="#fff" stroke="#2a2a2a" stroke-width="1.4" transform="rotate(30 244.5 181)"/>
<path d="M240.5,173.5 L243,177" fill="none" stroke="#2a2a2a" stroke-width="1.1"/>
<path d="M300.6,171.8 L313.3,167.6 L319.3,182.1 L320.1,190.6 L315,199.1 L304.8,205 L298,202.5 L294.6,195.7 Z" fill="#fff" stroke="#2a2a2a" stroke-width="1.2"/>
<path d="M300.6,171.8 L302.5,184 L314.5,180 L313.3,167.6" fill="none" stroke="#2a2a2a" stroke-width="1.1"/>
<path d="M302.5,184 L304.8,205" fill="none" stroke="#2a2a2a" stroke-width="1.1"/>
<ellipse cx="298.8" cy="196" rx="3.8" ry="5.6" fill="#888" stroke="#2a2a2a" stroke-width="1.6" transform="rotate(15 298.8 196)"/>
<path d="M307,152 L307,170" fill="none" stroke="#2a2a2a" stroke-width="1.1"/>
<path d="M324,170 L333,163 L339,168 L339.5,176 L331,182 L326,180 Z" fill="#bbb" stroke="#2a2a2a" stroke-width="1.3"/>
<path d="M327,168 L333,179" fill="none" stroke="#2a2a2a" stroke-width="0.9"/>
<path d="M330.5,165.5 L336.5,177" fill="none" stroke="#2a2a2a" stroke-width="0.9"/>
<ellipse cx="324.8" cy="175.5" rx="3.6" ry="5.6" fill="#fff" stroke="#2a2a2a" stroke-width="1.5" transform="rotate(25 324.8 175.5)"/>
<path d="M339.5,156.5 L336,163" fill="none" stroke="#2a2a2a" stroke-width="1.1"/>
<ellipse cx="291.8" cy="218" rx="3.2" ry="4.9" fill="#999" stroke="#2a2a2a" stroke-width="2"/>
<path d="M296,220.5 L299,222.5" fill="none" stroke="#2a2a2a" stroke-width="1.1"/>
<path d="M299,202 L283,209" fill="none" stroke="#2a2a2a" stroke-width="1.1"/>
</g>
<g font-family="Liberation Sans, sans-serif" font-weight="bold" fill="#15152a">
<text transform="translate(197.8 88.3) scale(0.72 1)" text-anchor="middle" font-size="14.0">1</text>
<text transform="translate(415.2 403.8) scale(0.72 1)" text-anchor="middle" font-size="14.0">10</text>
<text transform="translate(601.7 461.8) scale(0.72 1)" text-anchor="middle" font-size="14.0">29A</text>
<text transform="translate(459.8 683.5) scale(0.72 1)" text-anchor="middle" font-size="14.0">28</text>
<text transform="translate(379 474.8) scale(0.72 1)" text-anchor="middle" font-size="14.0">27</text>
<text transform="translate(305.5 551.2) scale(0.72 1)" text-anchor="middle" font-size="14.0">11</text>
<text transform="translate(217.6 598.4) scale(0.72 1)" text-anchor="middle" font-size="14.0">25</text>
<text transform="translate(252.4 593) scale(0.72 1)" text-anchor="middle" font-size="14.0">26</text>
<text transform="translate(216.2 773.8) scale(0.72 1)" text-anchor="middle" font-size="14.0">29</text>
<text transform="translate(324.9 736.8) scale(0.72 1)" text-anchor="middle" font-size="14.0">15</text>
<text transform="translate(116.4 719.1) scale(0.72 1)" text-anchor="middle" font-size="14.0">24</text>
<text transform="translate(358.8 667) scale(0.72 1)" text-anchor="middle" font-size="14.0">12</text>
<text transform="translate(392.2 733.5) scale(0.72 1)" text-anchor="middle" font-size="14.0">13</text>
<text transform="translate(106.6 799.8) scale(0.72 1)" text-anchor="middle" font-size="14.0">23</text>
<text transform="translate(158.7 882.8) scale(0.72 1)" text-anchor="middle" font-size="14.0">22</text>
<text transform="translate(311.5 868.8) scale(0.72 1)" text-anchor="middle" font-size="14.0">21</text>
<text transform="translate(314.5 897.3) scale(0.72 1)" text-anchor="middle" font-size="14.0">20</text>
<text transform="translate(327.5 917.1) scale(0.72 1)" text-anchor="middle" font-size="14.0">19</text>
<text transform="translate(336.9 806.8) scale(0.72 1)" text-anchor="middle" font-size="14.0">16</text>
<text transform="translate(315.8 829.1) scale(0.72 1)" text-anchor="middle" font-size="14.0">17</text>
<text transform="translate(300.4 839.1) scale(0.72 1)" text-anchor="middle" font-size="14.0">18</text>
<text transform="translate(561 272.8) scale(0.72 1)" text-anchor="middle" font-size="14.0">9</text>
<text transform="translate(321.5 344.8) scale(0.72 1)" text-anchor="middle" font-size="14.0">7</text>
<text transform="translate(154.1 348.8) scale(0.72 1)" text-anchor="middle" font-size="14.0">7M</text>
<text transform="translate(56.2 434.2) scale(0.72 1)" text-anchor="middle" font-size="14.0">14</text>
<text transform="translate(119.6 483.5) scale(0.72 1)" text-anchor="middle" font-size="14.0">8</text>
<text transform="translate(213 458.8) scale(0.72 1)" text-anchor="middle" font-size="14.0">7D</text>
<text transform="translate(236 215.3) scale(0.72 1)" text-anchor="middle" font-size="14.0">7B</text>
<text transform="translate(250.8 282.8) scale(0.72 1)" text-anchor="middle" font-size="14.0">7A</text>
<text transform="translate(286.6 316.8) scale(0.72 1)" text-anchor="middle" font-size="14.0">7C</text>
<text transform="translate(207.6 298.3) scale(0.72 1)" text-anchor="middle" font-size="14.0">7E</text>
<text transform="translate(205.3 333.8) scale(0.72 1)" text-anchor="middle" font-size="14.0">7G</text>
<text transform="translate(250.4 313.8) scale(0.72 1)" text-anchor="middle" font-size="14.0">7F</text>
<text transform="translate(250 347.3) scale(0.72 1)" text-anchor="middle" font-size="14.0">7H</text>
<text transform="translate(205.7 370.8) scale(0.72 1)" text-anchor="middle" font-size="14.0">7I</text>
<text transform="translate(250.4 383) scale(0.72 1)" text-anchor="middle" font-size="14.0">7L</text>
<text transform="translate(264.3 149.9) scale(0.72 1)" text-anchor="middle" font-size="14.0">4</text>
<text transform="translate(236 172.5) scale(0.72 1)" text-anchor="middle" font-size="14.0">5</text>
<text transform="translate(306.8 150.2) scale(0.72 1)" text-anchor="middle" font-size="14.0">3</text>
<text transform="translate(341.5 155.1) scale(0.72 1)" text-anchor="middle" font-size="14.0">2</text>
<text transform="translate(306 233.8) scale(0.72 1)" text-anchor="middle" font-size="14.0">6</text>
</g>
<text transform="translate(627.8 879.2) rotate(-90) scale(1.26 1)" text-anchor="end" font-family="Liberation Sans, sans-serif" font-size="11.5" fill="#1a1a28">0brush_V02</text>
</svg>
</body></html>
